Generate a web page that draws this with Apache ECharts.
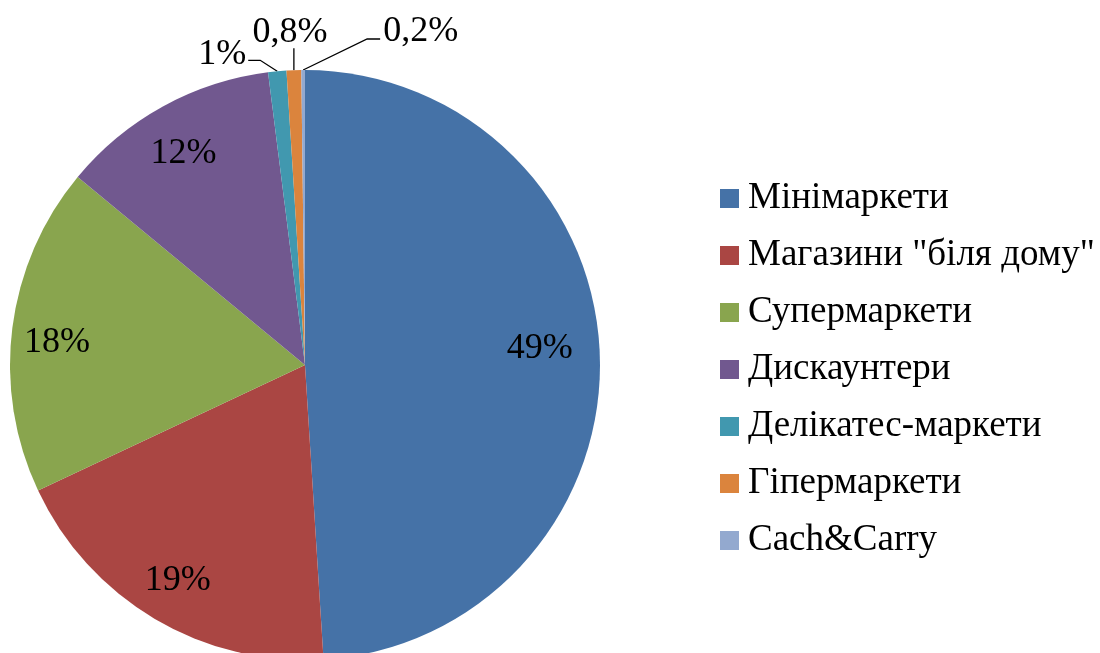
<!DOCTYPE html>
<html lang="uk">
<head>
    <meta charset="UTF-8">
    <title>Структура роздрібної торгівлі</title>
    <script src="https://cdn.jsdelivr.net/npm/echarts@6/dist/echarts.min.js"></script>
    <style>
        html, body { margin: 0; padding: 0; background: #fff; }
    </style>
</head>
<body>
<div id="main" style="width: 1100px;height:653px;"></div>
<script type="text/javascript">
    // назви форматів і частки, %
    var categories = ['Мінімаркети', 'Магазини "біля дому"', 'Супермаркети', 'Дискаунтери',
        'Делікатес-маркети', 'Гіпермаркети', 'Cach&Carry'];
    var shares = [49, 19, 18, 12, 1, 0.8, 0.2];
    var shareLabels = ['49%', '19%', '18%', '12%', '1%', '0,8%', '0,2%'];
    var colors = ['#4572A7', '#AA4643', '#89A54E', '#71588F', '#4198AF', '#DB843D', '#93A9CF'];

    var font = "'Liberation Serif', 'Times New Roman', serif";
    var cx = 305, cy = 365, r = 295;

    // дрібні зсуви внутрішніх підписів (як в Excel)
    var innerOffsets = [[-13, -9], [-1, 2], [-2, 9], [-2, 6]];

    // зсуви підписів дрібних секторів відносно точки на краю сектора
    var smallOffsets = {
        4: {label: [-31, -17], align: 'right', line: [[-17, -11], [-29, -11]]},
        5: {label: [-4, -38], align: 'center', line: [[0, -22], [0, -22]]},
        6: {label: [80, -38], align: 'left', line: [[64, -31], [77, -31]]}
    };

    var pieData = categories.map(function (name, i) {
        return {
            name: name,
            value: shares[i],
            label: {show: i >= 4},
            labelLine: {show: i >= 4}
        };
    });
    var ringData = categories.map(function (name, i) {
        return {
            name: name,
            value: shares[i],
            label: {show: i < 4, offset: innerOffsets[i] || [0, 0]}
        };
    });

    var myChart = echarts.init(document.getElementById('main'));
    var option = {
        animation: false,
        color: colors,
        legend: {
            orient: 'vertical',
            left: 715,
            top: 175,
            itemWidth: 19,
            itemHeight: 19,
            itemGap: 20,
            icon: 'rect',
            data: categories,
            textStyle: {
                fontFamily: font,
                fontSize: 37,
                lineHeight: 37,
                color: '#000',
                padding: [0, 0, 0, 4]
            }
        },
        series: [
            {
                name: 'pie',
                type: 'pie',
                center: [cx, cy],
                radius: [0, r],
                startAngle: 90,
                avoidLabelOverlap: false,
                silent: true,
                data: pieData,
                label: {
                    position: 'outside',
                    fontFamily: font,
                    fontSize: 36,
                    color: '#000',
                    formatter: function (p) { return shareLabels[p.dataIndex]; }
                },
                labelLine: {
                    length: 20,
                    length2: 10,
                    lineStyle: {color: '#000', width: 1.3}
                },
                labelLayout: function (p) {
                    var off = smallOffsets[p.dataIndex];
                    if (!off || !p.labelLinePoints) return {};
                    var a = p.labelLinePoints[0];
                    return {
                        x: a[0] + off.label[0],
                        y: a[1] + off.label[1],
                        align: off.align,
                        verticalAlign: 'middle',
                        labelLinePoints: [
                            [a[0], a[1]],
                            [a[0] + off.line[0][0], a[1] + off.line[0][1]],
                            [a[0] + off.line[1][0], a[1] + off.line[1][1]]
                        ]
                    };
                }
            },
            {
                // прозоре кільце лише для внутрішніх підписів
                name: 'labels',
                type: 'pie',
                center: [cx, cy],
                radius: [r * 0.66, r],
                startAngle: 90,
                silent: true,
                data: ringData,
                itemStyle: {color: 'rgba(0,0,0,0)'},
                label: {
                    position: 'inside',
                    fontFamily: font,
                    fontSize: 36,
                    color: '#000',
                    formatter: function (p) { return shareLabels[p.dataIndex]; }
                },
                labelLine: {show: false}
            }
        ]
    };
    myChart.setOption(option);
</script>
</body>
</html>
